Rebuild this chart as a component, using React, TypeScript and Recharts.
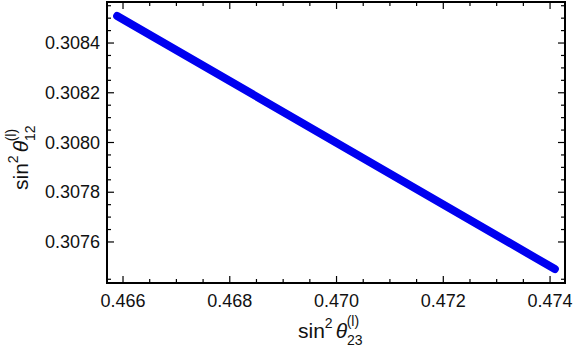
import { LineChart, Line, XAxis, YAxis, ReferenceArea } from "recharts";

// values
const s23Values = [0.46589, 0.47409];
const s12Values = [0.308509, 0.307491];

const xDomain = [0.4657, 0.47428];
const yDomain = [0.307435, 0.308565];

const xMajorTicks = [0.466, 0.468, 0.47, 0.472, 0.474];
const xMinorTicks = [
  0.4665, 0.467, 0.4675, 0.4685, 0.469, 0.4695, 0.4705, 0.471, 0.4715, 0.4725,
  0.473, 0.4735,
];
const yMajorTicks = [0.3076, 0.3078, 0.308, 0.3082, 0.3084];
const yMinorTicks = [
  0.30745, 0.30765, 0.3077, 0.30775, 0.30785, 0.3079, 0.30795, 0.30805, 0.3081,
  0.30815, 0.30825, 0.3083, 0.30835, 0.30845, 0.3085, 0.30855,
];

const data = s23Values.map((x, i) => ({ x, y: s12Values[i] }));

const xTicks = [...xMajorTicks, ...xMinorTicks].sort((a, b) => a - b);
const yTicks = [...yMajorTicks, ...yMinorTicks].sort((a, b) => a - b);

const FONT = "'Liberation Sans', Arial, sans-serif";
const PLOT = { left: 107, right: 565, top: 2, bottom: 283 };

const isMajor = (list: number[], v: number) =>
  list.some((m) => Math.abs(m - v) < 1e-9);

// ticks point inward, on both opposite sides of the frame
const XTick = ({ x, payload }: any) => {
  const major = isMajor(xMajorTicks, payload.value);
  const len = major ? 7 : 4;
  return (
    <g>
      <line x1={x} x2={x} y1={PLOT.bottom} y2={PLOT.bottom - len} stroke="#000" strokeWidth={1.2} />
      <line x1={x} x2={x} y1={PLOT.top} y2={PLOT.top + len} stroke="#000" strokeWidth={1.2} />
      {major && (
        <text x={x} y={PLOT.bottom + 24} textAnchor="middle" fontSize={18} fontFamily={FONT} fill="#111">
          {payload.value.toFixed(3)}
        </text>
      )}
    </g>
  );
};

const YTick = ({ y, payload }: any) => {
  const major = isMajor(yMajorTicks, payload.value);
  const len = major ? 7 : 4;
  return (
    <g>
      <line x1={PLOT.left} x2={PLOT.left + len} y1={y} y2={y} stroke="#000" strokeWidth={1.2} />
      <line x1={PLOT.right} x2={PLOT.right - len} y1={y} y2={y} stroke="#000" strokeWidth={1.2} />
      {major && (
        <text x={PLOT.left - 7} y={y + 6} textAnchor="end" fontSize={18} fontFamily={FONT} fill="#111">
          {payload.value.toFixed(4)}
        </text>
      )}
    </g>
  );
};

const Title = ({ sub }: { sub: string }) => (
  <>
    sin
    <tspan fontSize={14} dy={-10}>2</tspan>
    <tspan dy={10} dx={3} fontStyle="italic">θ</tspan>
    <tspan fontSize={14} dy={7}>{sub}</tspan>
    <tspan fontSize={14} dx={-16} dy={-19}>(l)</tspan>
  </>
);

const XTitle = () => (
  <text x={298} y={338} fontSize={21} fontFamily={FONT} fill="#111">
    <Title sub="23" />
  </text>
);

const YTitle = () => (
  <text
    x={0}
    y={0}
    transform="translate(28,190) rotate(-90)"
    fontSize={21}
    fontFamily={FONT}
    fill="#111"
  >
    <Title sub="12" />
  </text>
);

export default function App() {
  return (
    <div
      style={{
        position: "fixed",
        top: 0,
        left: 0,
        width: 576,
        height: 354,
        background: "#fff",
        overflow: "hidden",
      }}
    >
      <LineChart
        width={576}
        height={354}
        data={data}
        margin={{ top: 2, right: 11, left: 7, bottom: 0 }}
      >
        <XAxis
          type="number"
          dataKey="x"
          domain={xDomain}
          ticks={xTicks}
          interval={0}
          height={71}
          axisLine={{ stroke: "#000", strokeWidth: 2 }}
          tickLine={false}
          tick={<XTick />}
          label={<XTitle />}
        />
        <YAxis
          type="number"
          domain={yDomain}
          ticks={yTicks}
          interval={0}
          width={100}
          axisLine={{ stroke: "#000", strokeWidth: 2 }}
          tickLine={false}
          tick={<YTick />}
          label={<YTitle />}
        />
        <ReferenceArea
          x1={xDomain[0]}
          x2={xDomain[1]}
          y1={yDomain[0]}
          y2={yDomain[1]}
          fill="none"
          fillOpacity={0}
          stroke="#000"
          strokeWidth={2}
          strokeOpacity={1}
          ifOverflow="visible"
        />
        <Line
          dataKey="y"
          stroke="#0000f0"
          strokeWidth={8}
          strokeLinecap="round"
          dot={false}
          isAnimationActive={false}
        />
      </LineChart>
    </div>
  );
}
